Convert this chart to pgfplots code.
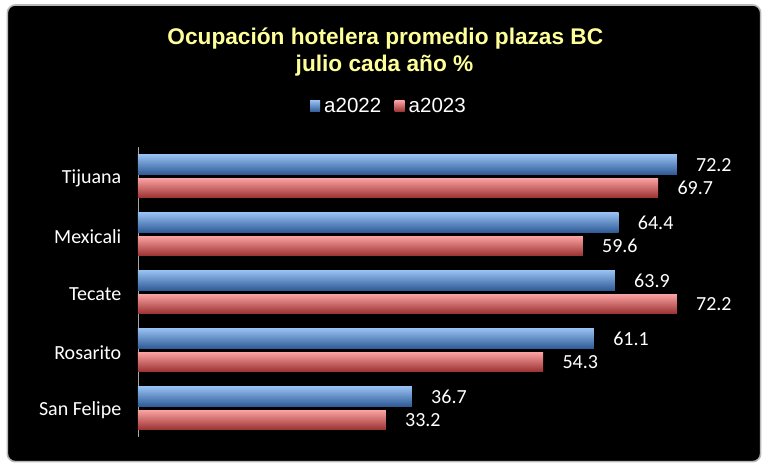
\documentclass[border=0pt]{standalone}
\usepackage{fontspec}
\setmainfont{Carlito}
\newfontfamily\arialfont{Liberation Sans}
\usepackage{pgfplots}
\pgfplotsset{compat=1.18}

\definecolor{titleyellow}{HTML}{FFFF99}
\definecolor{bluetop}{HTML}{95BEF0}
\definecolor{bluemid}{HTML}{4C88D2}
\definecolor{bluebot}{HTML}{2E5A96}
\definecolor{redtop}{HTML}{F9A0A0}
\definecolor{redmid}{HTML}{E05A58}
\definecolor{redbot}{HTML}{9A3030}

% values in %, order: Tijuana, Mexicali, Tecate, Rosarito, San Felipe
\pgfplotstableread{
pos a2022 a2023
0 72.2 69.7
1 64.4 59.6
2 63.9 72.2
3 61.1 54.3
4 36.7 33.2
}\ocupacion

\pgfplotsset{
  bar2022/.style={draw=none, top color=bluetop, middle color=bluemid, bottom color=bluebot},
  bar2023/.style={draw=none, top color=redtop, middle color=redmid, bottom color=redbot},
  squarelegend/.style={legend image code/.code={\path[##1] (0pt,-4pt) rectangle (7.5pt,4.5pt);}},
}

\begin{document}
\begin{tikzpicture}
% page and dark panel
\fill[white] (0,0) rectangle (576.75pt,354.75pt);
\fill[black, rounded corners=6pt, draw=gray!55, line width=1.2pt]
  (5.5pt,8.5pt) rectangle (570.5pt,351pt);

\node[anchor=base, text=titleyellow, font=\arialfont\bfseries\fontsize{17}{20}\selectfont]
  at (289pt,321pt) {Ocupación hotelera promedio plazas BC};
\node[anchor=base, text=titleyellow, font=\arialfont\bfseries\fontsize{17}{20}\selectfont]
  at (288.4pt,300.75pt) {julio cada año \%};

\begin{axis}[
    at={(103.5pt,244.125pt)}, anchor=north west,
    width=447.75pt, height=217.5pt, scale only axis,
    xbar,
    every axis plot post/.append style={squarelegend},
    xmin=0, xmax=80,
    ymin=-0.5, ymax=4.5,
    y dir=reverse,
    bar width=0.336,
    axis x line=none,
    axis y line*=left,
    y axis line style={draw=gray!70, line width=0.6pt},
    major tick length=0pt,
    ytick={0,1,2,3,4},
    yticklabels={Tijuana,Mexicali,Tecate,Rosarito,San Felipe},
    yticklabel style={text=white, font=\fontsize{15}{18}\selectfont, xshift=-9pt, yshift=-1.5pt},
    nodes near coords,
    every node near coord/.append style={text=white, font=\fontsize{15}{18}\selectfont,
      anchor=west, xshift=11pt},
    /pgf/number format/.cd, fixed, fixed zerofill, precision=1, assume math mode=true,
    /pgfplots/.cd,
    legend columns=2,
    legend style={at={(0.421,1.141)}, anchor=center, draw=none, fill=none,
      text=white, font=\arialfont\fontsize{15.4}{18}\selectfont,
      /tikz/every odd column/.append style={column sep=1pt},
      /tikz/every even column/.append style={column sep=8pt}},
]
\addlegendimage{bar2022, squarelegend}
\addlegendimage{bar2023, squarelegend}
\pgfplotsinvokeforeach{0,1,2,3,4}{
  \addplot[bar2022, bar shift=-0.2026, forget plot, restrict y to domain=#1:#1]
    table[x=a2022, y=pos] {\ocupacion};
  \addplot[bar2023, bar shift=0.2026, forget plot, restrict y to domain=#1:#1]
    table[x=a2023, y=pos] {\ocupacion};
}
\legend{a2022,a2023}
\end{axis}
\end{tikzpicture}
\end{document}
